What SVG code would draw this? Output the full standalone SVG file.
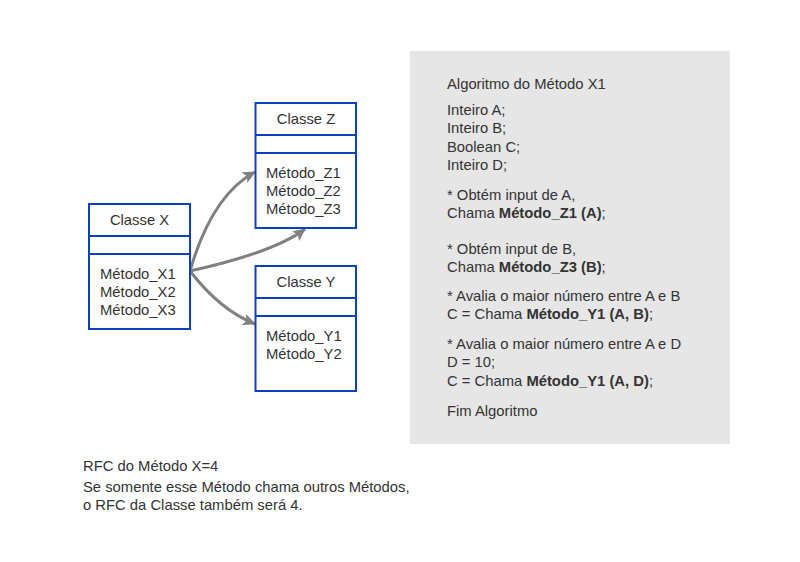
<svg xmlns="http://www.w3.org/2000/svg" width="800" height="562" viewBox="0 0 800 562">
<style>
text{font-family:"Liberation Sans",Arial,sans-serif;font-size:14.8px;fill:#333333}
.box{fill:#ffffff;stroke:#0d40c0;stroke-width:2}
.div{stroke:#0d40c0;stroke-width:2}
.c{text-anchor:middle}
.con{fill:none;stroke:#808080;stroke-width:3}
.b{font-weight:bold}
</style>
<defs>
<marker id="ah" markerUnits="userSpaceOnUse" markerWidth="14" markerHeight="12" viewBox="0 0 14 12" refX="12" refY="6" orient="auto">
<path d="M0,0 L13,6 L0,12 L3,6 Z" fill="#808080"/>
</marker>
</defs>
<rect width="800" height="562" fill="#ffffff"/>
<rect x="410" y="51" width="320" height="393" fill="#e6e6e6"/>
<g id="connectors">
<path class="con" d="M190,271 Q212,195 255,172" marker-end="url(#ah)"/>
<path class="con" d="M190,271 Q275,252 305,229" marker-end="url(#ah)"/>
<path class="con" d="M190,271 Q220,310 255,324" marker-end="url(#ah)"/>
</g>
<g id="classe-x">
<rect class="box" x="89" y="204" width="101" height="125"/>
<line class="div" x1="89" y1="236" x2="190" y2="236"/>
<line class="div" x1="89" y1="254" x2="190" y2="254"/>
<text class="c" x="139.5" y="225">Classe X</text>
<text x="100" y="279">Método_X1</text>
<text x="100" y="297">Método_X2</text>
<text x="100" y="315">Método_X3</text>
</g>
<g id="classe-z">
<rect class="box" x="255.5" y="103" width="100.5" height="125"/>
<line class="div" x1="255.5" y1="135" x2="356" y2="135"/>
<line class="div" x1="255.5" y1="153" x2="356" y2="153"/>
<text class="c" x="306" y="124">Classe Z</text>
<text x="266" y="178">Método_Z1</text>
<text x="266" y="196">Método_Z2</text>
<text x="266" y="214">Método_Z3</text>
</g>
<g id="classe-y">
<rect class="box" x="255.5" y="266" width="100.5" height="125"/>
<line class="div" x1="255.5" y1="298" x2="356" y2="298"/>
<line class="div" x1="255.5" y1="316" x2="356" y2="316"/>
<text class="c" x="306" y="287">Classe Y</text>
<text x="266" y="341">Método_Y1</text>
<text x="266" y="359">Método_Y2</text>
</g>
<g id="algoritmo">
<text x="447" y="89">Algoritmo do Método X1</text>
<text x="447" y="115">Inteiro A;</text>
<text x="447" y="133">Inteiro B;</text>
<text x="447" y="152">Boolean C;</text>
<text x="447" y="170">Inteiro D;</text>
<text x="447" y="200">* Obtém input de A,</text>
<text x="447" y="218">Chama <tspan class="b">Método_Z1 (A)</tspan>;</text>
<text x="447" y="254">* Obtém input de B,</text>
<text x="447" y="272">Chama <tspan class="b">Método_Z3 (B)</tspan>;</text>
<text x="447" y="301">* Avalia o maior número entre A e B</text>
<text x="447" y="319">C = Chama <tspan class="b">Método_Y1 (A, B)</tspan>;</text>
<text x="447" y="349">* Avalia o maior número entre A e D</text>
<text x="447" y="367">D = 10;</text>
<text x="447" y="386">C = Chama <tspan class="b">Método_Y1 (A, D)</tspan>;</text>
<text x="447" y="416">Fim Algoritmo</text>
</g>
<g id="notas">
<text x="83" y="471">RFC do Método X=4</text>
<text x="83" y="492">Se somente esse Método chama outros Métodos,</text>
<text x="83" y="510">o RFC da Classe também será 4.</text>
</g>
</svg>
